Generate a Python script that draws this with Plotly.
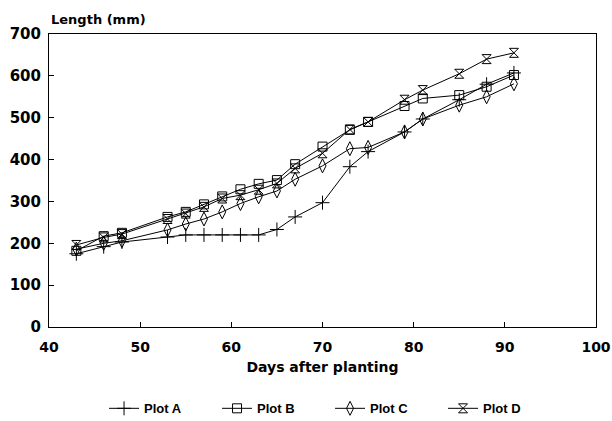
import plotly.graph_objects as go

days = [43, 46, 48, 53, 55, 57, 59, 61, 63, 65, 67, 70, 73, 75, 79, 81, 85, 88, 91]
plot_a = [175, 192, 203, 215, 220, 220, 220, 220, 220, 233, 263, 297, 383, 419, 466, 497, 543, 580, 607]
plot_b = [182, 217, 225, 263, 275, 293, 312, 329, 342, 351, 389, 431, 471, 490, 528, 546, 554, 574, 602]
plot_c = [186, 200, 206, 232, 246, 258, 275, 295, 311, 325, 353, 385, 426, 429, 466, 497, 530, 550, 581]
plot_d = [196, 214, 222, 258, 271, 287, 307, 315, 328, 343, 379, 415, 472, 490, 543, 566, 605, 640, 655]

x_ticks = [40, 50, 60, 70, 80, 90, 100]
y_ticks = [0, 100, 200, 300, 400, 500, 600, 700]

series = [
    ("Plot A", plot_a, "cross-thin-open", 10),
    ("Plot B", plot_b, "square-open", 9),
    ("Plot C", plot_c, "diamond-tall-open", 10),
    ("Plot D", plot_d, "hourglass-open", 9),
]

FONT = "Liberation Sans"
AXFONT = "DejaVu Sans"
fig = go.Figure()
for name, vals, sym, size in series:
    fig.add_trace(go.Scatter(
        x=days, y=vals, name=name, mode="lines+markers",
        line=dict(color="black", width=1),
        marker=dict(symbol=sym, size=size, color="black",
                    line=dict(color="black", width=1)),
    ))

fig.update_layout(
    width=612, height=421,
    margin=dict(l=49, r=16, t=34, b=94, autoexpand=False),
    paper_bgcolor="white", plot_bgcolor="white",
    font=dict(family=FONT, size=14, color="black", weight="bold"),
    showlegend=True,
    legend=dict(orientation="h", xref="container", yref="container",
                x=0.17, xanchor="left", y=0.03, yanchor="middle",
                font=dict(family=FONT, size=13, weight="bold"),
                itemwidth=30, tracegroupgap=0, entrywidth=68, entrywidthmode="pixels"),
    xaxis=dict(range=[40, 100], tickvals=x_ticks, ticktext=[str(v) for v in x_ticks],
               automargin=False,
               showgrid=False, zeroline=False, showline=True, linecolor="black", linewidth=1,
               mirror=True, ticks="inside", ticklen=5, tickcolor="black",
               ticklabelstandoff=7,
               tickfont=dict(family=AXFONT, size=14, weight="bold"),
               title=dict(text="Days after planting", font=dict(family=AXFONT, size=14, weight="bold"),
                          standoff=8)),
    yaxis=dict(range=[0, 700], tickvals=y_ticks, ticktext=[str(v) for v in y_ticks],
               automargin=False,
               showgrid=False, zeroline=False, showline=True, linecolor="black", linewidth=1,
               mirror=True, ticks="inside", ticklen=5, tickcolor="black",
               ticklabelstandoff=4,
               tickfont=dict(family=AXFONT, size=15, weight="bold")),
    annotations=[dict(text="Length (mm)", xref="paper", yref="paper", x=0, y=1,
                      xanchor="left", yanchor="bottom", yshift=5, showarrow=False,
                      font=dict(family=AXFONT, size=13, weight="bold"))],
)

fig.write_html("out.html")
